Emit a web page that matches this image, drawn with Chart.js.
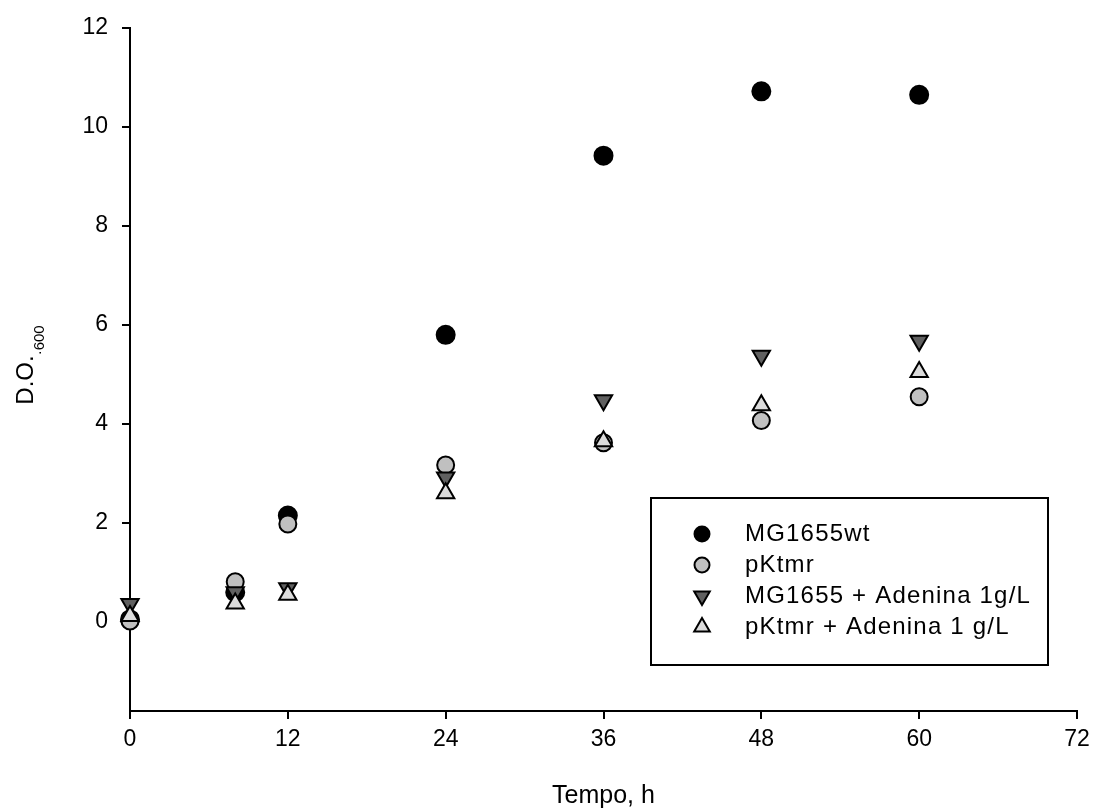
<!DOCTYPE html>
<html><head><meta charset="utf-8">
<script src="https://cdn.jsdelivr.net/npm/chart.js@4/dist/chart.umd.min.js"></script>
<style>html,body{margin:0;padding:0;background:#fff}#wrap{width:1098px;height:811px}</style>
</head><body><div id="wrap"><canvas id="c" width="1098" height="811"></canvas></div>
<script>
const hours = [0, 8, 12, 24, 36, 48, 60];
const seriesNames = ["MG1655wt", "pKtmr", "MG1655 + Adenina 1g/L", "pKtmr + Adenina 1 g/L"];
const wtValues = [0.05, 0.6, 2.15, 5.8, 9.42, 10.72, 10.65];
const pktmrValues = [0.02, 0.81, 1.98, 3.17, 3.62, 4.07, 4.55];
const mgAdeValues = [0.36, 0.6, 0.68, 2.92, 4.48, 5.38, 5.68];
const pkAdeValues = [0.12, 0.37, 0.55, 2.6, 3.65, 4.38, 5.05];
const xTicks = [0, 12, 24, 36, 48, 60, 72];
const yTicks = [0, 2, 4, 6, 8, 10, 12];

const FONT = "'Liberation Sans', Arial, sans-serif";
const toPts = vals => hours.map((h, i) => ({x: h, y: vals[i]}));

const styles = [
  {bg: '#000000', border: '#000000', style: 'circle', rot: 0, r: 9},
  {bg: '#c0c0c0', border: '#000000', style: 'circle', rot: 0, r: 8.5},
  {bg: '#606060', border: '#000000', style: 'triangle', rot: 180, r: 10},
  {bg: '#dcdcdc', border: '#000000', style: 'triangle', rot: 0, r: 10}
];
const allVals = [wtValues, pktmrValues, mgAdeValues, pkAdeValues];
const datasets = allVals.map((v, i) => ({
  label: seriesNames[i],
  data: toPts(v),
  showLine: false,
  clip: false,
  pointStyle: styles[i].style,
  rotation: styles[i].rot,
  pointRadius: styles[i].r,
  pointHoverRadius: styles[i].r,
  backgroundColor: styles[i].bg,
  borderColor: styles[i].border,
  pointBorderWidth: 2,
  order: 3 - i
}));

const decor = {
  id: 'decor',
  afterDraw(chart) {
    const ctx = chart.ctx;
    ctx.save();
    // Y title with subscript
    ctx.translate(33, 365);
    ctx.rotate(-Math.PI / 2);
    ctx.fillStyle = '#000';
    ctx.textBaseline = 'alphabetic';
    ctx.textAlign = 'left';
    ctx.font = '24px ' + FONT;
    const main = 'D.O.';
    const mw = ctx.measureText(main).width;
    const sub = '\u00B7600';
    ctx.font = '15px ' + FONT;
    const sw = ctx.measureText(sub).width;
    const start = -(mw + sw) / 2;
    ctx.font = '24px ' + FONT;
    ctx.fillText(main, start, 0);
    ctx.font = '15px ' + FONT;
    ctx.fillText(sub, start + mw, 11);
    ctx.restore();

    // Legend box
    ctx.save();
    const bx = 651, by = 498, bw = 397, bh = 167;
    ctx.strokeStyle = '#000';
    ctx.lineWidth = 2;
    ctx.strokeRect(bx, by, bw, bh);
    ctx.font = '24px ' + FONT;
    if ('letterSpacing' in ctx) ctx.letterSpacing = '1.2px';
    ctx.textBaseline = 'middle';
    const rowY = [534, 565, 596, 627];
    chart.data.datasets.forEach((ds, i) => {
      ctx.save();
      ctx.fillStyle = ds.backgroundColor;
      ctx.strokeStyle = ds.borderColor;
      ctx.lineWidth = 2;
      Chart.helpers.drawPoint(ctx, {
        pointStyle: ds.pointStyle,
        rotation: ds.rotation,
        radius: ds.pointStyle === 'circle' ? 7.5 : 9,
        borderWidth: 2
      }, 702, rowY[i]);
      ctx.restore();
      ctx.fillStyle = '#000';
      ctx.fillText(ds.label, 745, rowY[i]);
    });
    if ('letterSpacing' in ctx) ctx.letterSpacing = '0px';
    ctx.restore();
  }
};

new Chart(document.getElementById('c'), {
  type: 'scatter',
  data: {datasets},
  options: {
    responsive: false,
    animation: false,
    devicePixelRatio: 1,
    layout: {padding: {left: 0, right: 21, top: 28, bottom: 0}},
    plugins: {legend: {display: false}, tooltip: {enabled: false}},
    scales: {
      x: {
        type: 'linear', min: 0, max: 72,
        afterBuildTicks: s => { s.ticks = xTicks.map(v => ({value: v})); },
        afterFit: s => { s.height = 100; },
        grid: {display: true, drawOnChartArea: false, drawTicks: true, tickLength: 8, color: '#000', lineWidth: 2},
        border: {display: true, color: '#000', width: 2},
        ticks: {color: '#000', font: {family: FONT, size: 23}, padding: 7, maxRotation: 0},
        title: {display: true, text: 'Tempo, h', color: '#000', font: {family: FONT, size: 25}, padding: {top: 30, bottom: 0}}
      },
      y: {
        type: 'linear', min: -1.8, max: 12,
        afterBuildTicks: s => { s.ticks = yTicks.map(v => ({value: v})); },
        afterFit: s => { s.width = 130; },
        grid: {display: true, drawOnChartArea: false, drawTicks: true, tickLength: 8, color: '#000', lineWidth: 2},
        border: {display: true, color: '#000', width: 2},
        ticks: {color: '#000', font: {family: FONT, size: 23}, padding: 14}
      }
    }
  },
  plugins: [decor]
});
</script></body></html>
